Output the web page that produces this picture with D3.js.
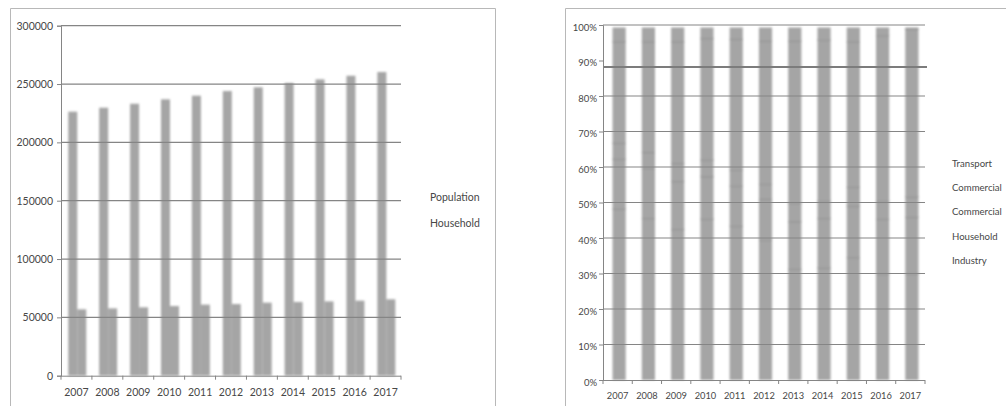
<!DOCTYPE html>
<html>
<head>
<meta charset="utf-8">
<script src="https://cdn.jsdelivr.net/npm/d3@7"></script>
<style>
  html, body { margin: 0; padding: 0; background: #fff; }
  svg { display: block; }
  text { font-family: Lato, "Open Sans", sans-serif; fill: #474747; }
</style>
</head>
<body>
<svg id="chart" width="1006" height="406"></svg>
<script>
// Years shared by both panels
const years = ["2007", "2008", "2009", "2010", "2011", "2012", "2013", "2014", "2015", "2016", "2017"];

// Left panel: population and households
const population = [226300, 229700, 233100, 236900, 240000, 244000, 247200, 250900, 254000, 257100, 260300];
const households = [56900, 57700, 58600, 59700, 60900, 61400, 62600, 63200, 63700, 64300, 65500];
const countTicks = [0, 50000, 100000, 150000, 200000, 250000, 300000];
const countSeries = ["Population", "Household"];

// Right panel: energy use share by sector, percent (bottom to top)
const industryShare   = [48.2, 45.5, 42.4, 45.3, 43.4, 39.4, 31.2, 31.6, 34.5, 29.8, 29.9];
const householdShare  = [14.0, 14.1, 13.5, 12.0, 11.3, 11.5, 13.4, 13.9, 14.5, 15.5, 15.9];
const commercialShareA = [4.5, 4.5, 5.1, 4.7, 4.5, 4.3, 5.2, 4.9, 5.3, 5.1, 5.8];
const commercialShareB = [28.6, 31.2, 34.3, 34.2, 36.8, 40.3, 45.7, 45.4, 41.0, 46.6, 47.2];
const transportShare  = [4.0, 4.0, 4.0, 3.1, 3.3, 3.8, 3.8, 3.5, 4.0, 2.3, 0.5];
const shareTicks = [0, 10, 20, 30, 40, 50, 60, 70, 80, 90, 100];
const shareGrid = [10, 20, 30, 40, 50, 60, 70, 80, 100];
const shareMarker = [88.2];
const shareLegend = ["Transport", "Commercial", "Commercial", "Household", "Industry"];

const svg = d3.select("#chart");
const gridColor = "#858585";
const barColor = "#a5a5a5";
const frameColor = "#b8b8b8";

const defs = svg.append("defs");
defs.append("filter").attr("id", "soft").attr("x", "-20%").attr("y", "-5%").attr("width", "140%").attr("height", "110%")
  .append("feGaussianBlur").attr("stdDeviation", 1.2);
defs.append("filter").attr("id", "softLine")
  .append("feGaussianBlur").attr("stdDeviation", 0.35);

// ---------- Left panel ----------
{
  const frame = svg.append("path")
    .attr("d", "M10.5,420 V8.5 H495.5 V420")
    .attr("fill", "none").attr("stroke", frameColor).attr("stroke-width", 1);

  const x0 = d3.scaleBand().domain(years).range([61, 401]).padding(0);
  const x1 = d3.scaleBand().domain(countSeries).range([0.8, x0.bandwidth() + 0.8]).paddingInner(0).paddingOuter(0.72);
  const y = d3.scaleLinear().domain([0, 300000]).range([375.7, 25.7]);

  const rows = years.map((yr, i) => ({ year: yr, Population: population[i], Household: households[i] }));

  const bars = svg.append("g").attr("filter", "url(#soft)");
  bars.selectAll("g").data(rows).join("g")
    .attr("transform", d => `translate(${x0(d.year)},0)`)
    .selectAll("rect")
    .data(d => countSeries.map(k => ({ key: k, value: d[k] })))
    .join("rect")
    .attr("x", d => x1(d.key))
    .attr("width", x1.bandwidth())
    .attr("y", d => y(d.value))
    .attr("height", d => y(0) - y(d.value))
    .attr("fill", barColor);

  // gridlines drawn over the bars
  svg.append("g").attr("filter", "url(#softLine)")
    .selectAll("line").data(countTicks.filter(t => t > 0)).join("line")
    .attr("x1", 61).attr("x2", 401)
    .attr("y1", d => y(d)).attr("y2", d => y(d))
    .attr("stroke", gridColor).attr("stroke-width", 1.2);

  const yAxis = svg.append("g").attr("transform", "translate(61,0)")
    .call(d3.axisLeft(y).tickValues(countTicks).tickFormat(d3.format("d")).tickSize(4).tickPadding(4));
  yAxis.select(".domain").attr("stroke", gridColor);
  yAxis.selectAll(".tick line").attr("stroke", gridColor);
  yAxis.selectAll("text").attr("font-size", 10.5).attr("fill", "#474747");

  const xAxis = svg.append("g").attr("transform", `translate(0,${y(0)})`)
    .call(d3.axisBottom(x0).tickSize(0).tickPadding(13));
  xAxis.select(".domain").attr("stroke", gridColor).attr("d", "M61,0.5H401");
  xAxis.selectAll("text").attr("font-size", 10.5).attr("fill", "#474747");
  svg.append("g").selectAll("line").data(years.concat(["end"])).join("line")
    .attr("x1", (d, i) => 61 + i * x0.step()).attr("x2", (d, i) => 61 + i * x0.step())
    .attr("y1", y(0)).attr("y2", y(0) + 4)
    .attr("stroke", gridColor);

  svg.append("g").selectAll("text").data(countSeries).join("text")
    .attr("x", 430).attr("y", (d, i) => 201 + i * 26)
    .attr("font-size", 10.5).text(d => d);
}

// ---------- Right panel ----------
{
  svg.append("path")
    .attr("d", "M565.5,420 V8.5 H1010")
    .attr("fill", "none").attr("stroke", frameColor).attr("stroke-width", 1);

  const x = d3.scaleBand().domain(years).range([603, 925]).padding(0);
  const y = d3.scaleLinear().domain([0, 100]).range([380, 25]);
  const barW = x.bandwidth() * 0.45;

  const keys = ["Industry", "Household", "CommercialA", "CommercialB", "Transport"];
  const rows = years.map((yr, i) => ({
    year: yr,
    Industry: industryShare[i],
    Household: householdShare[i],
    CommercialA: commercialShareA[i],
    CommercialB: commercialShareB[i],
    Transport: transportShare[i]
  }));
  const stacked = d3.stack().keys(keys)(rows);

  const bars = svg.append("g").attr("filter", "url(#soft)");
  const layers = bars.selectAll("g").data(stacked).join("g");
  layers.selectAll("rect").data(d => d).join("rect")
    .attr("x", d => x(d.data.year) + (x.bandwidth() - barW) / 2 + 1.5)
    .attr("width", barW)
    .attr("y", d => y(d[1]))
    .attr("height", d => y(d[0]) - y(d[1]))
    .attr("fill", barColor);
  // segment boundaries
  layers.filter((d, i) => i < keys.length - 1)
    .selectAll("line").data(d => d).join("line")
    .attr("x1", d => x(d.data.year) + (x.bandwidth() - barW) / 2 + 1.5)
    .attr("x2", d => x(d.data.year) + (x.bandwidth() + barW) / 2 + 1.5)
    .attr("y1", d => y(d[1])).attr("y2", d => y(d[1]))
    .attr("stroke", "#8c8c8c").attr("stroke-width", 1.4);

  svg.append("g").attr("filter", "url(#softLine)")
    .selectAll("line").data(shareGrid).join("line")
    .attr("x1", 603).attr("x2", 925)
    .attr("y1", d => y(d)).attr("y2", d => y(d))
    .attr("stroke", gridColor).attr("stroke-width", 1.2);

  svg.append("g").selectAll("line").data(shareMarker).join("line")
    .attr("x1", 603).attr("x2", 927)
    .attr("y1", d => y(d)).attr("y2", d => y(d))
    .attr("stroke", "#7c7c7c").attr("stroke-width", 2);

  const yAxis = svg.append("g").attr("transform", "translate(603,0)")
    .call(d3.axisLeft(y).tickValues(shareTicks).tickFormat(d => d + "%").tickSize(4).tickPadding(2));
  yAxis.select(".domain").attr("stroke", gridColor);
  yAxis.selectAll(".tick line").attr("stroke", gridColor);
  yAxis.selectAll("text").attr("font-size", 9.5).attr("fill", "#474747").attr("dy", "0.55em");

  const xAxis = svg.append("g").attr("transform", `translate(0,${y(0)})`)
    .call(d3.axisBottom(x).tickSize(0).tickPadding(12));
  xAxis.select(".domain").attr("stroke", gridColor).attr("d", "M603,0.5H925");
  xAxis.selectAll("text").attr("font-size", 9.3).attr("fill", "#474747");
  svg.append("g").selectAll("line").data(years.concat(["end"])).join("line")
    .attr("x1", (d, i) => 603 + i * x.step()).attr("x2", (d, i) => 603 + i * x.step())
    .attr("y1", y(0)).attr("y2", y(0) + 4)
    .attr("stroke", gridColor);

  svg.append("g").selectAll("text").data(shareLegend).join("text")
    .attr("x", 952).attr("y", (d, i) => 167 + i * 24.2)
    .attr("font-size", 9.6).text(d => d);
}
</script>
</body>
</html>
